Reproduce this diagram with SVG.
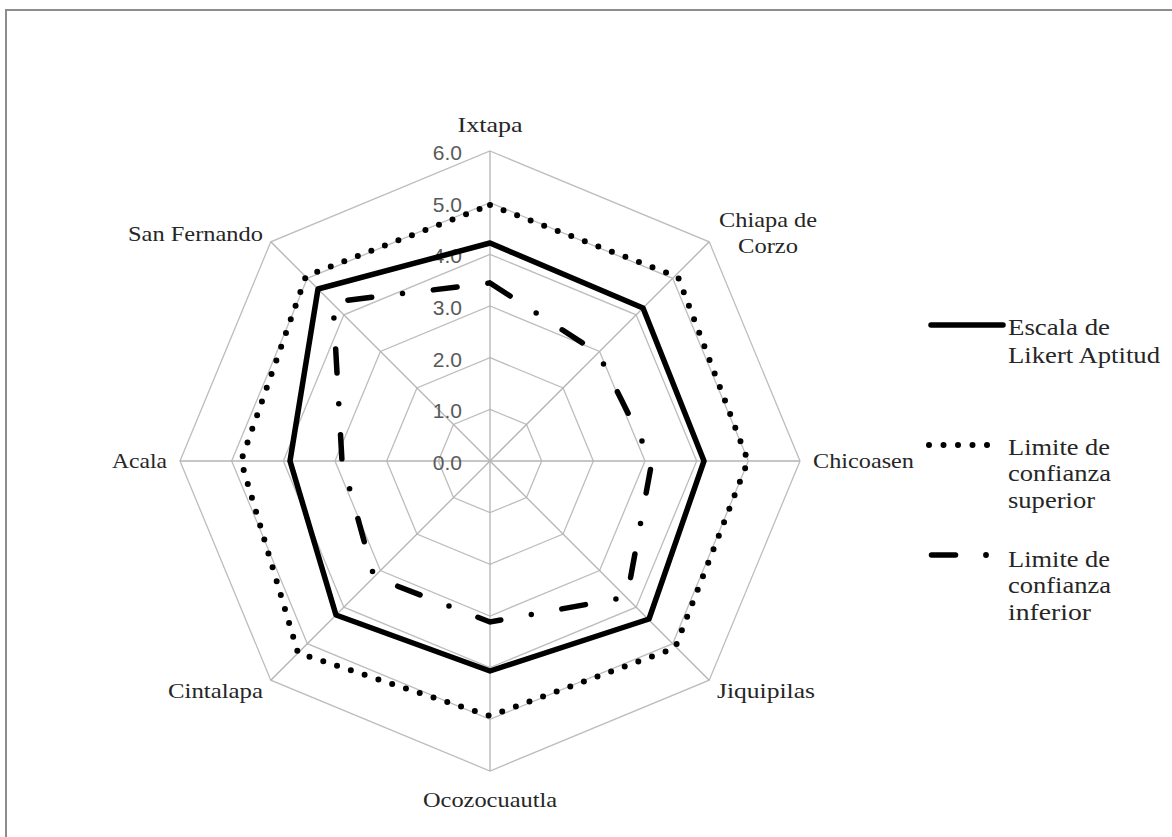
<svg xmlns="http://www.w3.org/2000/svg" width="1172" height="837" viewBox="0 0 1172 837">
<style>
.grid{fill:none;stroke:#bdbdbd;stroke-width:1.3}
.spoke{stroke:#b3b3b3;stroke-width:1.3}
.ax{font-family:"Liberation Sans",Arial,sans-serif;font-size:21px;fill:#595959;text-anchor:end}
.cat{font-family:"Liberation Serif","Times New Roman",serif;font-size:22px;fill:#262626}
.leg{font-family:"Liberation Serif","Times New Roman",serif;font-size:23px;fill:#262626}
.solid{fill:none;stroke:#000;stroke-width:5.5;stroke-linejoin:round;stroke-linecap:round}
.dot{fill:none;stroke:#000;stroke-width:6;stroke-dasharray:0 14.5;stroke-linecap:round}
.dashdot{fill:none;stroke:#000;stroke-width:5.5;stroke-dasharray:24 31 0 31;stroke-linecap:round}
</style>
<rect x="0" y="0" width="1172" height="837" fill="#fff"/>
<rect x="6" y="10" width="1180" height="840" fill="none" stroke="#8c8c8c" stroke-width="2"/>
<g id="grid">
<polygon class="grid" points="490,409.33 526.53,424.47 541.67,461 526.53,497.53 490,512.67 453.47,497.53 438.33,461 453.47,424.47"/>
<polygon class="grid" points="490,357.67 563.07,387.93 593.33,461 563.07,534.07 490,564.33 416.93,534.07 386.67,461 416.93,387.93"/>
<polygon class="grid" points="490,306 599.6,351.4 645,461 599.6,570.6 490,616 380.4,570.6 335,461 380.4,351.4"/>
<polygon class="grid" points="490,254.33 636.14,314.86 696.67,461 636.14,607.14 490,667.67 343.86,607.14 283.33,461 343.86,314.86"/>
<polygon class="grid" points="490,202.67 672.67,278.33 748.33,461 672.67,643.67 490,719.33 307.33,643.67 231.67,461 307.33,278.33"/>
<polygon class="grid" points="490,151 709.2,241.8 800,461 709.2,680.2 490,771 270.8,680.2 180,461 270.8,241.8"/>
<line class="spoke" x1="490" y1="461" x2="490" y2="151"/>
<line class="spoke" x1="490" y1="461" x2="709.2" y2="241.8"/>
<line class="spoke" x1="490" y1="461" x2="800" y2="461"/>
<line class="spoke" x1="490" y1="461" x2="709.2" y2="680.2"/>
<line class="spoke" x1="490" y1="461" x2="490" y2="771"/>
<line class="spoke" x1="490" y1="461" x2="270.8" y2="680.2"/>
<line class="spoke" x1="490" y1="461" x2="180" y2="461"/>
<line class="spoke" x1="490" y1="461" x2="270.8" y2="241.8"/>
</g>
<g id="axis-labels">
<text class="ax" x="462" y="470">0.0</text>
<text class="ax" x="462" y="418.3">1.0</text>
<text class="ax" x="462" y="366.7">2.0</text>
<text class="ax" x="462" y="315">3.0</text>
<text class="ax" x="462" y="263.3">4.0</text>
<text class="ax" x="462" y="211.7">5.0</text>
<text class="ax" x="462" y="160">6.0</text>
</g>
<g id="connectors">
<polygon id="series-upper" class="dot" points="490,205 678,277 748,461 675,648 490,716 298,653 241,461 306,276"/>
<polygon id="series-likert" class="solid" points="490,243 643,308 704,461 649,619 490,671 336,615 290,461 318,289"/>
<polygon id="series-lower" class="dashdot" points="490,283 598,353 652,461 627,597 490,622 374,577 342,461 333,302"/>
</g>
<g id="node-ixtapa"><text class="cat" x="490" y="132" text-anchor="middle" textLength="65" lengthAdjust="spacingAndGlyphs">Ixtapa</text></g>
<g id="node-chiapa"><text class="cat" x="768" y="227" text-anchor="middle" textLength="98" lengthAdjust="spacingAndGlyphs">Chiapa de</text><text class="cat" x="768" y="253" text-anchor="middle" textLength="60" lengthAdjust="spacingAndGlyphs">Corzo</text></g>
<g id="node-chicoasen"><text class="cat" x="813" y="468" textLength="101" lengthAdjust="spacingAndGlyphs">Chicoasen</text></g>
<g id="node-jiquipilas"><text class="cat" x="717" y="698" textLength="98" lengthAdjust="spacingAndGlyphs">Jiquipilas</text></g>
<g id="node-ocozocuautla"><text class="cat" x="490" y="807" text-anchor="middle" textLength="134" lengthAdjust="spacingAndGlyphs">Ocozocuautla</text></g>
<g id="node-cintalapa"><text class="cat" x="168" y="698" textLength="95" lengthAdjust="spacingAndGlyphs">Cintalapa</text></g>
<g id="node-acala"><text class="cat" x="112" y="468" textLength="55" lengthAdjust="spacingAndGlyphs">Acala</text></g>
<g id="node-sanfernando"><text class="cat" x="128" y="241" textLength="135" lengthAdjust="spacingAndGlyphs">San Fernando</text></g>
<g id="legend">
<line x1="931" y1="325" x2="1003" y2="325" stroke="#000" stroke-width="5.5" stroke-linecap="round"/>
<text class="leg" x="1008" y="335" textLength="102" lengthAdjust="spacingAndGlyphs">Escala de</text>
<text class="leg" x="1008" y="363" textLength="152" lengthAdjust="spacingAndGlyphs">Likert Aptitud</text>
<line x1="929" y1="445" x2="1000" y2="445" class="dot"/>
<text class="leg" x="1008" y="455" textLength="102" lengthAdjust="spacingAndGlyphs">Limite de</text>
<text class="leg" x="1008" y="481" textLength="103" lengthAdjust="spacingAndGlyphs">confianza</text>
<text class="leg" x="1008" y="508" textLength="87" lengthAdjust="spacingAndGlyphs">superior</text>
<line x1="931.5" y1="555" x2="955.5" y2="555" stroke="#000" stroke-width="5.5" stroke-linecap="round"/>
<circle cx="986" cy="555" r="2.9" fill="#000"/>
<text class="leg" x="1008" y="567" textLength="102" lengthAdjust="spacingAndGlyphs">Limite de</text>
<text class="leg" x="1008" y="593" textLength="103" lengthAdjust="spacingAndGlyphs">confianza</text>
<text class="leg" x="1008" y="620" textLength="83" lengthAdjust="spacingAndGlyphs">inferior</text>
</g>
</svg>
